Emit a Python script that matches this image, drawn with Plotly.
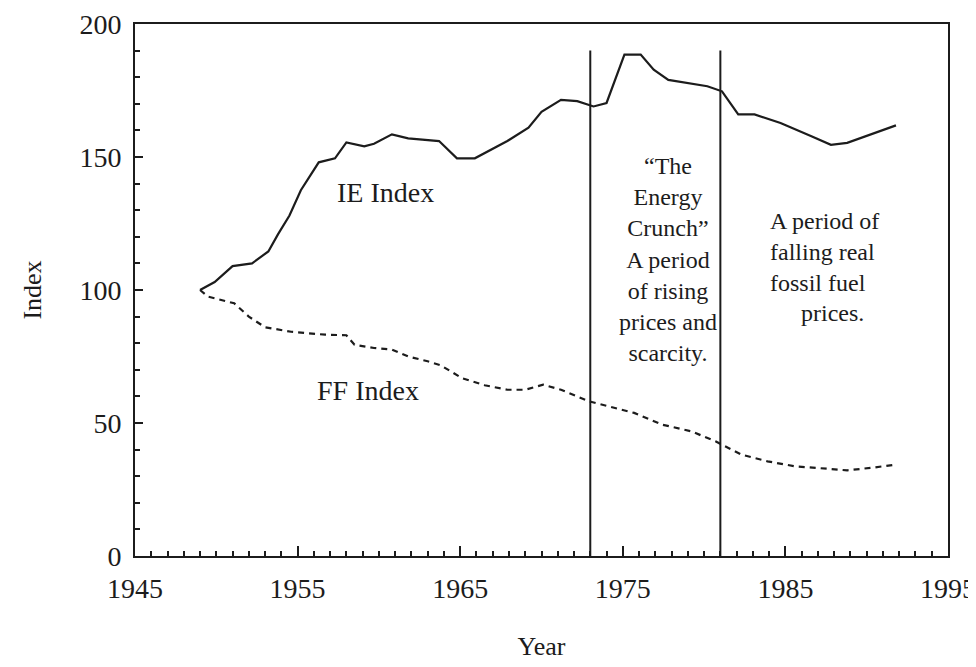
import plotly.graph_objects as go

# ---- data ----
ie_years = [1949.0, 1949.9, 1951.0, 1952.2, 1953.2, 1953.8, 1954.5, 1955.2, 1956.3, 1957.3,
            1958.0, 1959.1, 1959.7, 1960.8, 1961.8, 1963.7, 1964.8, 1965.9, 1967.9, 1969.2,
            1970.0, 1971.2, 1972.2, 1973.2, 1974.0, 1974.5, 1975.1, 1976.1, 1976.9, 1977.8,
            1979.0, 1980.2, 1981.1, 1982.1, 1983.1, 1984.7, 1986.6, 1987.8, 1988.8, 1990.5,
            1991.8]
ie_values = [100, 103, 109, 110, 114.5, 121, 128, 137.5, 148, 149.5,
             155.5, 154, 155, 158.5, 157, 156, 149.5, 149.5, 156, 161,
             167, 171.5, 171, 169, 170.3, 178.5, 188.5, 188.5, 182.8, 179,
             177.8, 176.6, 174.7, 166, 166, 162.8, 157.8, 154.6, 155.3, 159,
             161.9]

ff_years = [1949.0, 1949.5, 1951.1, 1952.0, 1953.0, 1954.6, 1956.7, 1958.0, 1958.5, 1959.7,
            1960.8, 1961.8, 1963.0, 1963.8, 1965.1, 1966.5, 1967.9, 1969.0, 1970.1, 1971.2,
            1972.9, 1974.5, 1975.7, 1977.4, 1979.2, 1980.7, 1982.3, 1983.9, 1985.6, 1987.6,
            1988.8, 1990.5, 1991.7]
ff_values = [100, 97.5, 95, 90, 86, 84.3, 83.2, 83, 79.4, 78.2,
             77.6, 75, 73.2, 71.7, 66.9, 64.2, 62.5, 62.5, 64.4, 62.5,
             58.2, 55.6, 53.8, 49.4, 46.9, 43.1, 38.1, 35.6, 33.7, 32.8,
             32.2, 33.3, 34.3]

period_bounds = [1973, 1981]
period_line_top = 190

x_ticks = [1945, 1955, 1965, 1975, 1985, 1995]
y_ticks = [0, 50, 100, 150, 200]

crunch_text = ["\u201cThe", "Energy", "Crunch\u201d", "A period", "of rising", "prices and", "scarcity."]
falling_text = ["A period of", "falling real", "fossil fuel"]
falling_last = "prices."

INK = "#1c1c1c"
FONT = "Liberation Serif"

fig = go.Figure()

for xb in period_bounds:
    fig.add_trace(go.Scatter(x=[xb, xb], y=[0, period_line_top], mode="lines",
                             line=dict(color=INK, width=2), showlegend=False, hoverinfo="skip"))

fig.add_trace(go.Scatter(x=ie_years, y=ie_values, mode="lines", name="IE Index",
                         line=dict(color=INK, width=2.2), showlegend=False))
fig.add_trace(go.Scatter(x=ff_years, y=ff_values, mode="lines", name="FF Index",
                         line=dict(color=INK, width=2.2, dash="6px,5px"), showlegend=False))

annotations = [
    dict(x=1960.4, y=136.5, text="IE Index", font=dict(size=28)),
    dict(x=1959.3, y=62.4, text="FF Index", font=dict(size=28)),
    dict(x=1977.8, y=111.5, text="<br>".join(crunch_text), font=dict(size=24), align="center"),
    dict(x=1983.9, y=114.3, text="<br>".join(falling_text), font=dict(size=24), align="left",
         xanchor="left"),
    dict(x=1987.9, y=91.4, text=falling_last, font=dict(size=24)),
]
for a in annotations:
    a.setdefault("xanchor", "center")
    a.update(xref="x", yref="y", showarrow=False, yanchor="middle")
    a["font"].update(family=FONT, color=INK)

fig.update_layout(
    width=976, height=667,
    margin=dict(l=127, r=36, t=16, b=119),
    paper_bgcolor="white", plot_bgcolor="white",
    font=dict(family=FONT, color=INK, size=28),
    annotations=annotations,
    xaxis=dict(
        range=[1945, 1995], tickvals=x_ticks, ticktext=[str(v) for v in x_ticks],
        ticks="inside", ticklen=10, tickwidth=2, tickcolor=INK,
        minor=dict(dtick=1, tick0=1945, ticks="inside", ticklen=5, tickwidth=1.5, tickcolor=INK),
        showline=True, linecolor=INK, linewidth=2, mirror=True,
        showgrid=False, zeroline=False, automargin=False,
        tickfont=dict(size=28, family=FONT, color=INK), ticklabelstandoff=6,
        title=dict(text="Year", font=dict(size=26, family=FONT, color=INK), standoff=34),
    ),
    yaxis=dict(
        range=[0, 200], tickvals=y_ticks, ticktext=[str(v) for v in y_ticks],
        ticks="inside", ticklen=8, tickwidth=2, tickcolor=INK,
        minor=dict(dtick=10, tick0=0, ticks="inside", ticklen=5, tickwidth=1.5, tickcolor=INK),
        showline=True, linecolor=INK, linewidth=2, mirror=True,
        showgrid=False, zeroline=False, automargin=False,
        tickfont=dict(size=28, family=FONT, color=INK), ticklabelstandoff=6,
        title=dict(text="Index", font=dict(size=26, family=FONT, color=INK), standoff=30),
    ),
)

fig.write_html("out.html")
